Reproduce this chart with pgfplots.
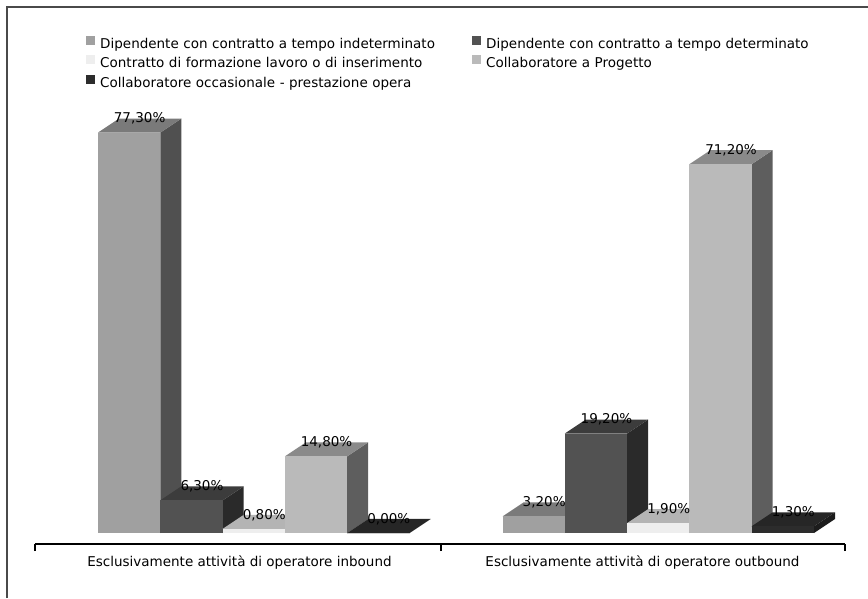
\documentclass[border=0pt]{standalone}
\usepackage{pgfplots}
\pgfplotsset{compat=1.18}
\usepackage{pgfplotstable}
\usepackage{fontspec}
\setmainfont{DejaVu Sans}

% face colours: front, side, top for each contract type
\definecolor{frontA}{HTML}{A0A0A0}\definecolor{sideA}{HTML}{505050}\definecolor{topA}{HTML}{7A7A7A}
\definecolor{frontB}{HTML}{525252}\definecolor{sideB}{HTML}{2A2A2A}\definecolor{topB}{HTML}{3C3C3C}
\definecolor{frontC}{HTML}{EEEEEE}\definecolor{sideC}{HTML}{9A9A9A}\definecolor{topC}{HTML}{B4B4B4}
\definecolor{frontD}{HTML}{BABABA}\definecolor{sideD}{HTML}{5E5E5E}\definecolor{topD}{HTML}{8A8A8A}
\definecolor{frontE}{HTML}{2C2C2C}\definecolor{sideE}{HTML}{1C1C1C}\definecolor{topE}{HTML}{262626}
\definecolor{framegray}{HTML}{4A4A4A}

% share of each contract type (%), one row per activity group
\pgfplotstableread{
grp s1 s2 s3 s4 s5
0 77.3 6.3 0.8 14.8 0.0
1 3.2 19.2 1.9 71.2 1.3
}\contracts

\newcommand\depthx{21}     % horizontal depth of the boxes (pt)
\newcommand\depthy{2.703}  % vertical depth of the boxes (data units)
\newcommand\barw{62.3}     % width of a bar front (pt)

\pgfplotsset{
  vlabel/.style={
    nodes near coords={\pgfmathprintnumber[fixed,fixed zerofill,precision=2,use comma]{\pgfplotspointmeta}\%},
    every node near coord/.append style={anchor=center, inner sep=0pt, text=black},
  },
}

% one box: group, series, front colour, side colour, top colour
\newcommand\contractbar[5]{%
  \pgfplotstablegetelem{#1}{s#2}\of\contracts
  \pgfmathsetmacro\bval{\pgfplotsretval}%
  \pgfmathsetmacro\xa{98+404.5*#1+\barw*(#2-1)}%
  \pgfmathsetmacro\xb{\xa+\barw}%
  \pgfmathsetmacro\xc{\xb+\depthx}%
  \pgfmathsetmacro\xd{\xa+\depthx}%
  \pgfmathsetmacro\btop{\bval+\depthy}%
  \edef\barpaths{%
    \noexpand\addplot[forget plot, draw=none, fill=#4] coordinates {(\xb,0) (\xc,\depthy) (\xc,\btop) (\xb,\bval)};
    \noexpand\addplot[forget plot, draw=none, fill=#5] coordinates {(\xa,\bval) (\xb,\bval) (\xc,\btop) (\xd,\btop)};
    \noexpand\addplot[forget plot, draw=none, fill=#3] coordinates {(\xa,0) (\xb,0) (\xb,\bval) (\xa,\bval)};
  }\barpaths
}

% value label above the back edge of a box
\newcommand\contractlabel[2]{%
  \pgfplotstablegetelem{#1}{s#2}\of\contracts
  \pgfmathsetmacro\bval{\pgfplotsretval}%
  \pgfmathsetmacro\xm{98+404.5*#1+\barw*(#2-1)+(\barw+\depthx)/2}%
  \pgfmathsetmacro\btop{\bval+\depthy}%
  \edef\barlabel{%
    \noexpand\addplot[forget plot, draw=none, vlabel, point meta=explicit] coordinates {(\xm,\btop) [\bval]};
  }\barlabel
}

\begin{document}
\fontsize{13.5pt}{16pt}\selectfont
\begin{tikzpicture}
\begin{axis}[
  x=1pt, y=5.18pt,
  xmin=35, xmax=845,
  ymin=-2.124, ymax=85,
  clip=false,
  hide y axis,
  axis x line*=bottom,
  axis line style={black, line width=1.2pt},
  xtick={239.5,642.5},
  xticklabels={Esclusivamente attività di operatore inbound, Esclusivamente attività di operatore outbound},
  major tick length=0pt,
  minor xtick={35,441,845},
  minor tick length=7pt,
  tick align=outside,
  minor tick style={black, line width=1.2pt},
  xticklabel style={yshift=-7pt},
  /pgf/number format/assume math mode=true,
  legend columns=2,
  legend cell align=left,
  legend image code/.code={\path[#1] (0pt,0pt) rectangle (9pt,9pt);},
  legend style={
    draw=none, fill=none, inner sep=0pt,
    at={(axis description cs:0.063,1.1268)}, anchor=north west,
    row sep=4pt,
    nodes={inner xsep=0pt, inner ysep=0pt, text height=10pt, text depth=3pt, text width=360pt},
    /tikz/every odd column/.append style={column sep=5pt},
    /tikz/every even column/.append style={column sep=12pt},
  },
]
\addlegendimage{draw=none, fill=frontA}
\addlegendentry{Dipendente con contratto a tempo indeterminato}
\addlegendimage{draw=none, fill=frontB}
\addlegendentry{Dipendente con contratto a tempo determinato}
\addlegendimage{draw=none, fill=frontC}
\addlegendentry{Contratto di formazione lavoro o di inserimento}
\addlegendimage{draw=none, fill=frontD}
\addlegendentry{Collaboratore a Progetto}
\addlegendimage{draw=none, fill=frontE}
\addlegendentry{Collaboratore occasionale - prestazione opera}

\contractbar{0}{1}{frontA}{sideA}{topA}
\contractbar{0}{2}{frontB}{sideB}{topB}
\contractbar{0}{3}{frontC}{sideC}{topC}
\contractbar{0}{4}{frontD}{sideD}{topD}
\contractbar{0}{5}{frontE}{sideE}{topE}
\contractbar{1}{1}{frontA}{sideA}{topA}
\contractbar{1}{2}{frontB}{sideB}{topB}
\contractbar{1}{3}{frontC}{sideC}{topC}
\contractbar{1}{4}{frontD}{sideD}{topD}
\contractbar{1}{5}{frontE}{sideE}{topE}

\contractlabel{0}{1}\contractlabel{0}{2}\contractlabel{0}{3}\contractlabel{0}{4}\contractlabel{0}{5}
\contractlabel{1}{1}\contractlabel{1}{2}\contractlabel{1}{3}\contractlabel{1}{4}\contractlabel{1}{5}
\end{axis}
\begin{scope}[shift={(current axis.south west)}]
  \path[use as bounding box] (-35pt,-54pt) rectangle (833pt,544pt);
  \draw[framegray, line width=2pt] (-28pt,-54pt) -- (-28pt,537pt) -- (833pt,537pt);
\end{scope}
\end{tikzpicture}
\end{document}
